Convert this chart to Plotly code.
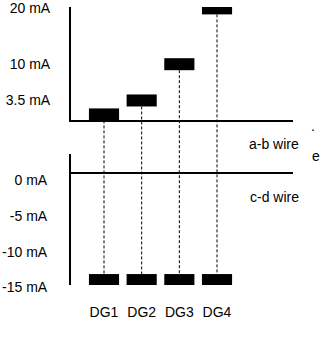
import plotly.graph_objects as go

# ---------------- data ----------------
categories = ["DG1", "DG2", "DG3", "DG4"]
ab_current = [1.0, 3.5, 10, 20]          # mA on a-b wire
cd_current = [-15, -15, -15, -15]        # mA on c-d wire
upper_tickvals = [20, 10, 3.5]
upper_ticktext = ["20 mA", "10 mA", "3.5 mA"]
lower_tickvals = [0, -5, -10, -15]
lower_ticktext = ["0 mA", "-5 mA", "-10 mA", "-15 mA"]
wire_labels = ["a-b wire", "c-d wire"]

# ---------------- layout geometry ----------------
W, H = 324, 340
FONT = "Liberation Sans, Arial, sans-serif"

su, zu = 5.58, 120      # upper: px per mA, pixel of 0 mA
sl, zl = 7.17, 173      # lower: px per mA, pixel of 0 mA
up_top, up_bot = 7, 120
lo_top, lo_bot = 154, 285
x_left, x_right = 71, 293
cat_px, first_c = 37.67, 104

y_range = [(zu - up_bot) / su, (zu - up_top) / su]
y_dom = [1 - up_bot / H, 1 - up_top / H]
y2_range = [(zl - lo_bot) / sl, (zl - lo_top) / sl]
y2_dom = [1 - lo_bot / H, 1 - lo_top / H]
x_range = [(x_left - first_c) / cat_px, (x_right - first_c) / cat_px]
x_dom = [x_left / W, x_right / W]

h_up = 12 / su
h_lo = 13 / sl


def to_paper(v, rng, dom):
    return dom[0] + (v - rng[0]) / (rng[1] - rng[0]) * (dom[1] - dom[0])


fig = go.Figure()
fig.add_trace(go.Bar(
    x=categories, y=[h_up] * len(ab_current),
    base=[v - h_up / 2 for v in ab_current],
    width=0.8, marker=dict(color="black", line=dict(width=0)),
    xaxis="x", yaxis="y", cliponaxis=False, showlegend=False, hoverinfo="skip"))
fig.add_trace(go.Bar(
    x=categories, y=[h_lo] * len(cd_current),
    base=[v - h_lo / 2 for v in cd_current],
    width=0.8, marker=dict(color="black", line=dict(width=0)),
    xaxis="x2", yaxis="y2", cliponaxis=False, showlegend=False, hoverinfo="skip"))

shapes = []
for c, a, d in zip(categories, ab_current, cd_current):
    shapes.append(dict(
        type="line", xref="x", yref="paper", x0=c, x1=c,
        y0=to_paper(a - h_up / 2, y_range, y_dom),
        y1=to_paper(d + h_lo / 2, y2_range, y2_dom),
        line=dict(color="black", width=1, dash="3px,2px"), layer="below"))

annotations = [
    dict(text=wire_labels[0], xref="paper", yref="paper", x=247 / W, y=1 - 143.5 / H,
         xanchor="left", yanchor="middle", showarrow=False),
    dict(text=wire_labels[1], xref="paper", yref="paper", x=248 / W, y=1 - 197 / H,
         xanchor="left", yanchor="middle", showarrow=False),
    dict(text=".", xref="paper", yref="paper", x=313 / W, y=1 - 126 / H,
         xanchor="center", yanchor="middle", showarrow=False),
    dict(text="e", xref="paper", yref="paper", x=315.5 / W, y=1 - 156 / H,
         xanchor="center", yanchor="middle", showarrow=False),
]

fig.update_layout(
    width=W, height=H, autosize=False,
    margin=dict(l=0, r=0, t=0, b=0, pad=0),
    paper_bgcolor="white", plot_bgcolor="white",
    font=dict(family=FONT, size=14, color="black"),
    barmode="overlay", showlegend=False,
    shapes=shapes, annotations=annotations,
    xaxis=dict(domain=x_dom, range=x_range, anchor="y", type="category",
               categoryorder="array", categoryarray=categories, automargin=False,
               showline=True, linewidth=2, linecolor="black",
               showgrid=False, zeroline=False, ticks="", showticklabels=False),
    yaxis=dict(domain=y_dom, range=y_range, anchor="x", automargin=False,
               showline=True, linewidth=2, linecolor="black",
               showgrid=False, zeroline=False, ticks="",
               tickvals=upper_tickvals, ticktext=upper_ticktext,
               ticklabelstandoff=16),
    xaxis2=dict(domain=x_dom, range=x_range, anchor="y2", matches="x", type="category",
                categoryorder="array", categoryarray=categories, automargin=False,
                showline=False, showgrid=False, zeroline=False, ticks="",
                showticklabels=True, ticklabelstandoff=17),
    yaxis2=dict(domain=y2_dom, range=y2_range, anchor="x2", automargin=False,
                showline=True, linewidth=2, linecolor="black",
                showgrid=False, zeroline=True, zerolinewidth=2, zerolinecolor="black",
                ticks="", tickvals=lower_tickvals, ticktext=lower_ticktext,
                ticklabelstandoff=19, ticklabelshift=7),
)

fig.write_html("out.html")
